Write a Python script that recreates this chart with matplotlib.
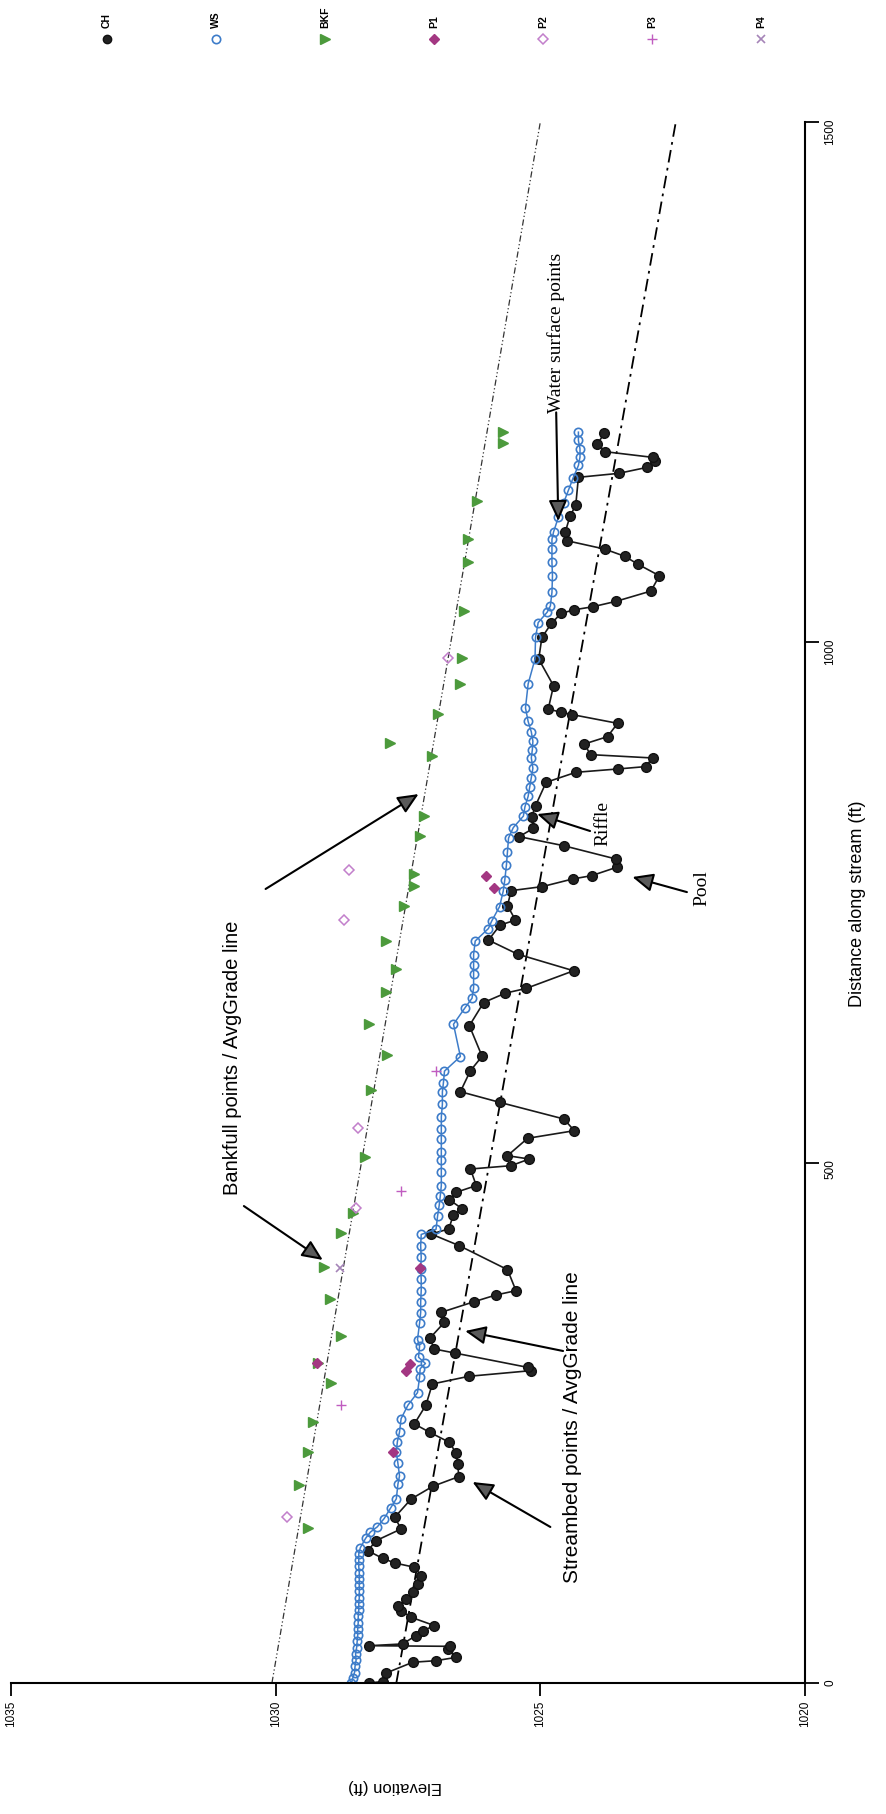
"""Longitudinal stream profile, drawn rotated (landscape chart turned on its side)."""

import matplotlib
matplotlib.use("Agg")
import matplotlib.pyplot as plt
from matplotlib.lines import Line2D

# ---- data: distance along stream (ft) / elevation (ft) ----
ch_d = [0, 1.3, 9.6, 19.9, 21.4, 24.6, 32.6, 35.2, 35.8, 37.5, 45.5, 50.3, 55.1, 63.1, 69.5, 74.3,
        80.7, 87.1, 95.1, 103.1, 111.2, 115.3, 119.8, 127.1, 136.8, 148.0, 159.2, 176.8, 189.0,
        198.3, 210.5, 221.0, 231.3, 240.9, 248.9, 267.1, 287.3, 294.7, 300.1, 303.3, 317.1, 320.9,
        331.2, 346.6, 356.2, 366.4, 372.8, 377.0, 397.2, 420.2, 431.4, 436.3, 450.0, 455.5, 464.4,
        471.5, 478.0, 493.9, 497.1, 503.5, 506.7, 523.4, 530.7, 541.9, 558.0, 568.2, 588.4, 602.2,
        631.6, 653.9, 662.9, 667.4, 684.4, 700.4, 713.9, 728.3, 733.1, 747.0, 761.4, 765.3, 772.6,
        775.8, 783.8, 791.8, 804.6, 813.3, 821.3, 832.5, 843.1, 865.5, 875.1, 878.3, 880.6, 888.9,
        892.1, 902.3, 909.4, 922.2, 930.6, 932.8, 936.0, 958.3, 983.9, 1004.7, 1018.2, 1027.8,
        1031.3, 1034.2, 1039.4, 1049.3, 1064.0, 1075.2, 1082.6, 1089.6, 1097.6, 1105.7, 1121.1,
        1131.9, 1158.6, 1162.4, 1168.2, 1174.5, 1177.8, 1183.2, 1190.6, 1201.1]
ch_e = [1028.23, 1027.98, 1027.91, 1027.41, 1026.97, 1026.59, 1026.75, 1026.70, 1028.23, 1027.60,
        1027.35, 1027.21, 1027.00, 1027.44, 1027.63, 1027.69, 1027.53, 1027.41, 1027.32, 1027.25,
        1027.38, 1027.75, 1027.98, 1028.26, 1028.10, 1027.63, 1027.75, 1027.44, 1027.03, 1026.54,
        1026.56, 1026.59, 1026.72, 1027.09, 1027.38, 1027.16, 1027.04, 1026.35, 1025.18, 1025.24,
        1026.62, 1027.00, 1027.09, 1026.81, 1026.87, 1026.25, 1025.84, 1025.46, 1025.62, 1026.53,
        1027.06, 1026.73, 1026.64, 1026.47, 1026.72, 1026.59, 1026.21, 1026.32, 1025.55, 1025.21,
        1025.62, 1025.24, 1024.36, 1024.55, 1025.77, 1026.51, 1026.32, 1026.10, 1026.34, 1026.07,
        1025.66, 1025.27, 1024.37, 1025.43, 1025.98, 1025.76, 1025.47, 1025.62, 1025.55, 1024.96,
        1024.39, 1024.03, 1023.56, 1023.57, 1024.56, 1025.40, 1025.13, 1025.16, 1025.09, 1024.89,
        1024.33, 1023.54, 1023.01, 1022.88, 1024.05, 1024.17, 1023.73, 1023.54, 1024.40, 1024.61,
        1024.85, 1024.75, 1025.03, 1024.97, 1024.79, 1024.61, 1024.36, 1024.01, 1023.57, 1022.91,
        1022.75, 1023.16, 1023.40, 1023.78, 1024.49, 1024.53, 1024.44, 1024.33, 1024.28, 1023.52,
        1022.98, 1022.83, 1022.88, 1023.77, 1023.92, 1023.79]

ws_d = [0, 5, 10, 16, 22, 28, 34, 40, 46, 52, 58, 64, 70, 76, 82, 88, 94, 100, 106, 112, 118, 124,
        130, 139, 145, 150, 158, 168, 177, 191, 199, 211, 222, 232, 241, 254, 267, 279, 294, 302,
        307, 313, 324, 330, 346, 356, 366, 377, 388, 398, 409, 420, 431, 436, 449, 459, 468, 478,
        491, 503, 510, 523, 532, 544, 556, 568, 577, 588, 602, 633, 649, 658, 668, 681, 690, 700,
        713, 725, 732, 746, 761, 772, 786, 799, 812, 822, 833, 842, 852, 861, 870, 879, 889, 897,
        905, 914, 924, 937, 960, 984, 1005, 1019, 1029, 1035, 1048, 1064, 1077, 1090, 1099, 1106,
        1120, 1134, 1146, 1158, 1170, 1178, 1186, 1194, 1202]
ws_e = [1028.57, 1028.54, 1028.51, 1028.50, 1028.48, 1028.49, 1028.47, 1028.46, 1028.45, 1028.45,
        1028.44, 1028.44, 1028.43, 1028.43, 1028.42, 1028.42, 1028.42, 1028.42, 1028.42, 1028.43,
        1028.43, 1028.43, 1028.40, 1028.30, 1028.21, 1028.08, 1027.95, 1027.83, 1027.72, 1027.69,
        1027.66, 1027.69, 1027.72, 1027.70, 1027.66, 1027.63, 1027.50, 1027.32, 1027.28, 1027.27,
        1027.17, 1027.30, 1027.28, 1027.32, 1027.28, 1027.26, 1027.26, 1027.25, 1027.25, 1027.26,
        1027.25, 1027.26, 1027.25, 1026.97, 1026.94, 1026.91, 1026.89, 1026.87, 1026.87, 1026.87,
        1026.87, 1026.87, 1026.87, 1026.87, 1026.85, 1026.85, 1026.83, 1026.81, 1026.51, 1026.64,
        1026.42, 1026.29, 1026.26, 1026.26, 1026.26, 1026.26, 1026.23, 1025.98, 1025.92, 1025.77,
        1025.70, 1025.67, 1025.64, 1025.62, 1025.60, 1025.51, 1025.32, 1025.29, 1025.23, 1025.20,
        1025.17, 1025.14, 1025.17, 1025.15, 1025.14, 1025.17, 1025.23, 1025.28, 1025.23, 1025.10,
        1025.09, 1025.04, 1024.87, 1024.81, 1024.78, 1024.77, 1024.78, 1024.78, 1024.78, 1024.75,
        1024.66, 1024.56, 1024.47, 1024.38, 1024.28, 1024.25, 1024.25, 1024.28, 1024.28]

bkf_d = [149.3, 190.3, 222.3, 251.0, 288.5, 307.0, 333.0, 368.5, 399.5, 432.8, 452.0, 505.2, 569.5,
         603.8, 633.0, 664.0, 686.0, 713.0, 747.0, 766.0, 777.0, 814.0, 833.0, 891.0, 903.0, 931.0,
         960.0, 984.5, 1030.0, 1077.5, 1099.0, 1136.0, 1192.0, 1202.0]
bkf_e = [1029.39, 1029.55, 1029.39, 1029.30, 1028.95, 1029.20, 1028.76, 1028.98, 1029.08, 1028.76,
         1028.54, 1028.32, 1028.19, 1027.90, 1028.24, 1027.91, 1027.72, 1027.92, 1027.57, 1027.38,
         1027.38, 1027.28, 1027.19, 1027.04, 1027.84, 1026.93, 1026.52, 1026.48, 1026.45, 1026.36,
         1026.36, 1026.20, 1025.70, 1025.70]

p1_d = [222.3, 300.1, 306.5, 307.0, 398.4, 763.5, 775.7]
p1_e = [1027.79, 1027.53, 1027.47, 1029.22, 1027.28, 1025.87, 1026.02]
p2_d = [159.4, 456.0, 533.0, 733.4, 781.0, 984.5]
p2_e = [1029.79, 1028.48, 1028.45, 1028.71, 1028.62, 1026.74]
p3_d = [267.5, 473.0, 588.4]
p3_e = [1028.76, 1027.63, 1026.97]
p4_d = [398.5]
p4_e = [1028.79]

# average grade lines (end points along the reach)
grade_d = [0, 1500]
bkf_grade_e = [1030.07, 1025.00]
bed_grade_e = [1027.72, 1022.44]

elev_ticks = [1020, 1025, 1030, 1035]
dist_ticks = [0, 500, 1000, 1500]

SANS = ["Liberation Sans", "DejaVu Sans"]
SERIF = ["Liberation Serif", "DejaVu Serif"]

fig = plt.figure(figsize=(8.87, 18.15), dpi=100)
ax = fig.add_axes([0.0124, 0.0722, 0.8951, 0.8600])

ax.plot(bkf_grade_e, grade_d, color="#333333", lw=0.9, ls=(0, (5, 2, 1, 2, 1, 2)))
ax.plot(bed_grade_e, grade_d, color="black", lw=1.3, ls=(0, (7, 3, 1.5, 3)))

ax.plot(ch_e, ch_d, color="#1a1a1a", lw=1.2, marker="o", ms=7, mfc="#222222", mec="#111111")
ax.plot(ws_e, ws_d, color="#3d7cc9", lw=1.1, marker="o", ms=6, mfc="none", mec="#3d7cc9", mew=1.2)
ax.plot(bkf_e, bkf_d, ls="none", marker=">", ms=7, color="#4c9a3c")
ax.plot(p1_e, p1_d, ls="none", marker="D", ms=5, color="#a33782")
ax.plot(p2_e, p2_d, ls="none", marker="D", ms=5, mfc="none", mec="#c27fcb", mew=1.1)
ax.plot(p3_e, p3_d, ls="none", marker="+", ms=7, mew=1.0, color="#c05cc0")
ax.plot(p4_e, p4_d, ls="none", marker="x", ms=6, mew=1.2, color="#a584b8")

ax.set_xlim(1035, 1020)
ax.set_ylim(0, 1500)
for s in ("left", "top"):
    ax.spines[s].set_visible(False)
for s in ("bottom", "right"):
    ax.spines[s].set_linewidth(1.5)
ax.set_xticks(elev_ticks)
ax.set_yticks(dist_ticks)
ax.yaxis.tick_right()
ax.tick_params(axis="x", direction="out", length=9, width=1.3, labelrotation=90, labelsize=8.5, pad=3)
ax.tick_params(axis="y", direction="out", length=10, width=1.3, labelrotation=90, labelsize=8.5, pad=4)
for lab in ax.get_xticklabels() + ax.get_yticklabels():
    lab.set_family(SANS)

ax.set_xlabel("Elevation (ft)", rotation=180, fontsize=12, family=SANS)
ax.xaxis.set_label_coords(0.484, -0.061)
ax.yaxis.set_label_position("right")
ax.set_ylabel("Distance along stream (ft)", rotation=90, fontsize=13, family=SANS)
ax.yaxis.set_label_coords(1.055, 0.5)

arrow = dict(arrowstyle="-|>,head_length=0.9,head_width=0.4", mutation_scale=14,
             ec="black", fc="#5a5a5a", lw=1.5, shrinkA=0, shrinkB=0)

ax.text(1030.81, 601.5, "Bankfull points / AvgGrade line", rotation=90, ha="center", va="center",
        fontsize=14.5, family=SANS)
ax.annotate("", xy=(1029.11, 406.5), xytext=(1030.60, 458.3), arrowprops=arrow)
ax.annotate("", xy=(1027.30, 854.2), xytext=(1030.19, 763.0), arrowprops=arrow)

ax.text(1024.40, 247.0, "Streambed points / AvgGrade line", rotation=90, ha="center", va="center",
        fontsize=15, family=SANS)
ax.annotate("", xy=(1026.28, 193.1), xytext=(1024.81, 149.9), arrowprops=arrow)
ax.annotate("", xy=(1026.42, 338.2), xytext=(1024.57, 319.0), arrowprops=arrow)

ax.text(1024.70, 1221.0, "Water surface points", rotation=90, ha="center", va="bottom",
        fontsize=14, family=SERIF)
ax.annotate("", xy=(1024.66, 1116.6), xytext=(1024.70, 1221.0), arrowprops=arrow)

ax.text(1023.81, 827.3, "Riffle", rotation=90, ha="center", va="center", fontsize=14, family=SERIF)
ax.annotate("", xy=(1025.06, 835.0), xytext=(1024.06, 818.7), arrowprops=arrow)

ax.text(1021.94, 764.9, "Pool", rotation=90, ha="center", va="center", fontsize=14, family=SERIF)
ax.annotate("", xy=(1023.26, 774.5), xytext=(1022.23, 760.0), arrowprops=arrow)

# legend, laid out along the top edge like the rotated original
legend_items = [
    ("CH", dict(marker="o", ms=6, mfc="#222222", mec="#111111", color="#222222")),
    ("WS", dict(marker="o", ms=6, mfc="none", mec="#3d7cc9", mew=1.2)),
    ("BKF", dict(marker=">", ms=7, color="#4c9a3c")),
    ("P1", dict(marker="D", ms=5, color="#a33782")),
    ("P2", dict(marker="D", ms=5, mfc="none", mec="#c27fcb", mew=1.1)),
    ("P3", dict(marker="+", ms=7, mew=1.0, color="#c05cc0")),
    ("P4", dict(marker="x", ms=6, mew=1.2, color="#a584b8")),
]
for i, (name, style) in enumerate(legend_items):
    xf = (107 + 109 * i) / 887
    fig.add_artist(Line2D([xf], [0.978], ls="none", transform=fig.transFigure, **style))
    fig.text(xf, 0.9846, name, rotation=90, ha="center", va="bottom", fontsize=7.5,
             fontweight="bold", family=SANS)

fig.savefig("out.png", dpi=100)
